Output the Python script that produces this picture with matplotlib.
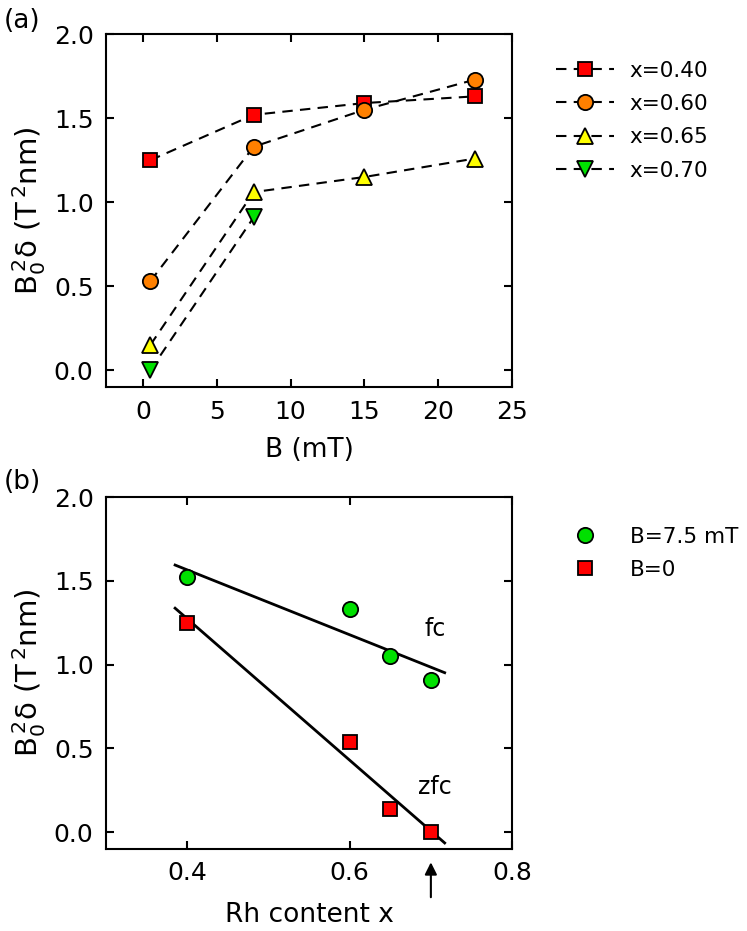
import numpy as np
import matplotlib
matplotlib.use('Agg')
import matplotlib.pyplot as plt

# panel (a): B0^2 delta vs field B, one series per Rh content
field = [0.5, 7.5, 15, 22.5]
series_a = {
    'x=0.40': [1.25, 1.52, 1.59, 1.63],
    'x=0.60': [0.53, 1.33, 1.55, 1.73],
    'x=0.65': [0.15, 1.06, 1.15, 1.26],
    'x=0.70': [0.0, 0.91],
}
styles_a = {
    'x=0.40': ('s', '#ff0000', 10),
    'x=0.60': ('o', '#ff8000', 11),
    'x=0.65': ('^', '#ffff00', 12),
    'x=0.70': ('v', '#00e000', 12),
}

# panel (b): B0^2 delta vs Rh content
rh = [0.40, 0.60, 0.65, 0.70]
fc_vals = [1.52, 1.33, 1.05, 0.91]
zfc_vals = [1.25, 0.54, 0.14, 0.0]

plt.rcParams['font.family'] = 'DejaVu Sans'
plt.rcParams['font.size'] = 18

fig = plt.figure(figsize=(7.47, 9.31), dpi=100)
ax1 = fig.add_axes([0.142, 0.5843, 0.5435, 0.379])
ax2 = fig.add_axes([0.142, 0.0881, 0.5435, 0.378])

ylab = r'B$_0^{\,2}$δ (T$^{\,2}$nm)'

for name, vals in series_a.items():
    m, c, ms = styles_a[name]
    ax1.plot(field[:len(vals)], vals, ls=(0, (5, 3.5)), color='black', lw=1.5,
             marker=m, mfc=c, mec='black', mew=1.3, ms=ms, label=name)

ax1.set_xlim(-2.5, 25)
ax1.set_ylim(-0.1, 2.0)
ax1.set_xticks([0, 5, 10, 15, 20, 25])
ax1.set_yticks([0.0, 0.5, 1.0, 1.5, 2.0])
ax1.set_xlabel('B (mT)', fontsize=19, labelpad=10)
ax1.set_ylabel(ylab, fontsize=21)
ax1.legend(loc='upper left', bbox_to_anchor=(1.06, 0.98), frameon=False,
           fontsize=15.5, handlelength=2.7, handletextpad=0.7, labelspacing=0.62)

xs = np.array([0.385, 0.717])
p_fc = np.polyfit(rh, fc_vals, 1)
p_zfc = np.polyfit(rh, zfc_vals, 1)
ax2.plot(xs, np.polyval(p_fc, xs), color='black', lw=2)
ax2.plot(xs, np.polyval(p_zfc, xs), color='black', lw=2)
ax2.plot(rh, fc_vals, 'o', mfc='#00e000', mec='black', mew=1.3, ms=11, label='B=7.5 mT')
ax2.plot(rh, zfc_vals, 's', mfc='#ff0000', mec='black', mew=1.3, ms=10, label='B=0')
ax2.text(0.705, 1.21, 'fc', fontsize=17, ha='center', va='center')
ax2.text(0.705, 0.27, 'zfc', fontsize=17, ha='center', va='center')

ax2.set_xlim(0.3, 0.8)
ax2.set_ylim(-0.1, 2.0)
ax2.set_xticks([0.4, 0.6, 0.8])
ax2.set_yticks([0.0, 0.5, 1.0, 1.5, 2.0])
ax2.set_xlabel('Rh content x', fontsize=19, labelpad=12)
ax2.set_ylabel(ylab, fontsize=21)
ax2.legend(loc='upper left', bbox_to_anchor=(1.1, 0.97), frameon=False,
           fontsize=15.5, handlelength=1.2, handletextpad=1.5, labelspacing=0.6)
ax2.annotate('', xy=(0.7, -0.03), xytext=(0.7, -0.145),
             xycoords=('data', 'axes fraction'), textcoords=('data', 'axes fraction'),
             arrowprops=dict(arrowstyle='-|>', color='black', lw=1.5, mutation_scale=18))

for ax in (ax1, ax2):
    ax.tick_params(direction='in', top=True, right=True, length=6, width=1.5, pad=9)
    for s in ax.spines.values():
        s.set_linewidth(1.5)

fig.text(0.005, 0.977, '(a)', fontsize=19, va='center')
fig.text(0.005, 0.482, '(b)', fontsize=19, va='center')

fig.savefig('out.png', dpi=100)
